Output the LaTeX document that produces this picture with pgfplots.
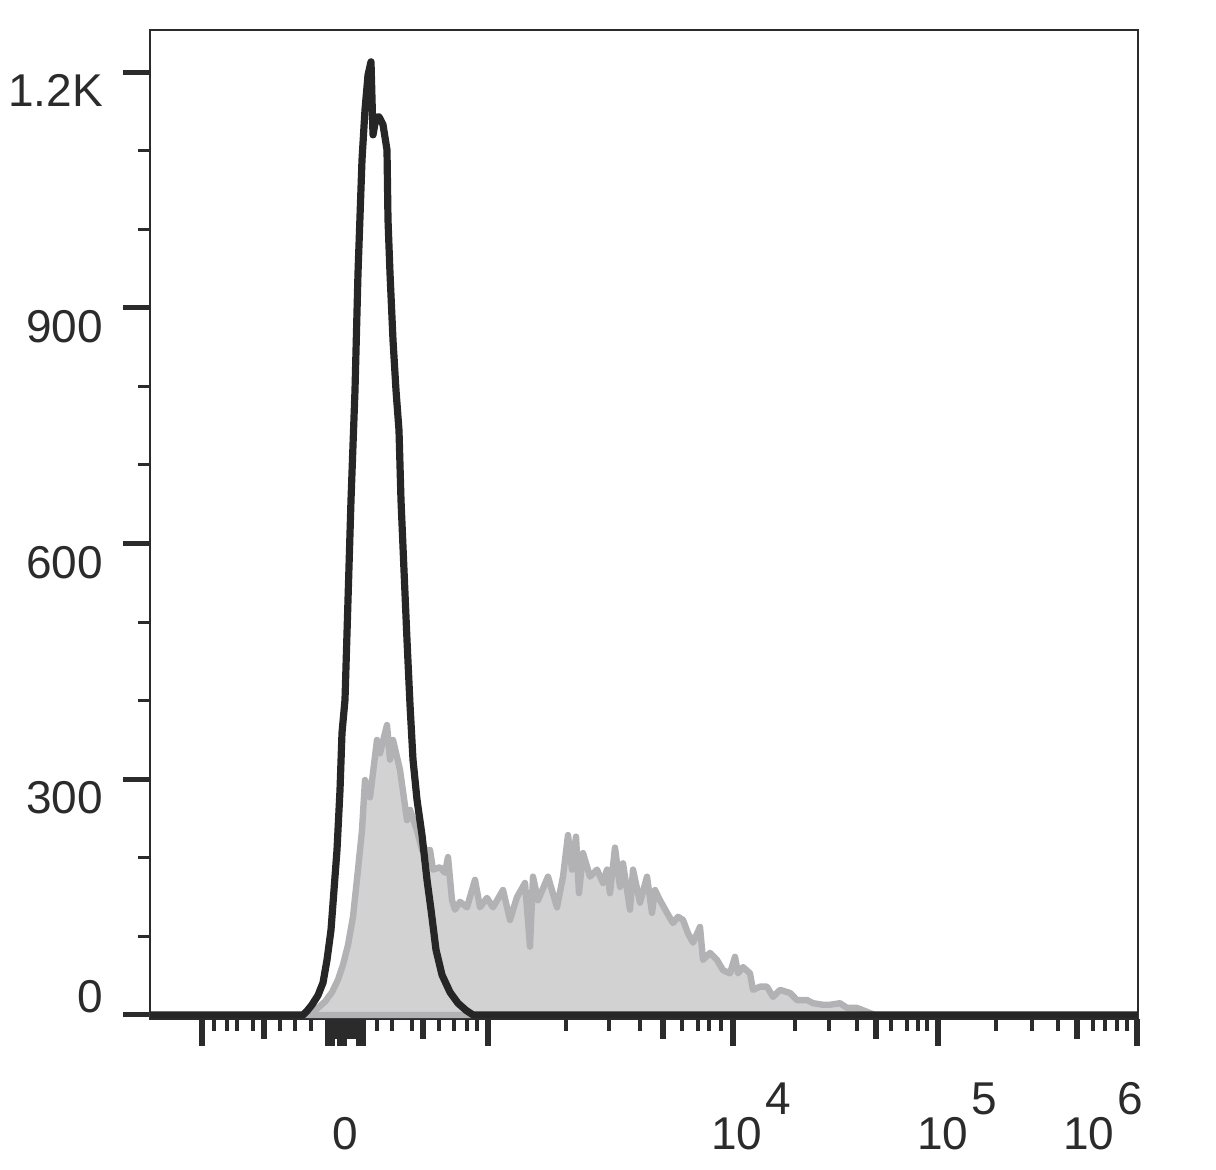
\documentclass[border=0pt]{standalone}
\usepackage{fontspec}
\setmainfont{Liberation Sans}
\usepackage{pgfplots}
\pgfplotsset{compat=1.18}
\definecolor{ink}{HTML}{2B2B2B}
\definecolor{curve}{HTML}{262626}
\definecolor{fillgray}{HTML}{D2D2D2}
\definecolor{edgegray}{HTML}{B2B2B5}
\newcommand{\lblfont}{\fontsize{23}{27}\selectfont}
\begin{document}
\begin{tikzpicture}
\begin{axis}[
  name=ax,
  scale only axis, width=494pt, height=494.5pt,
  xmin=150, xmax=1138, ymin=-5.1, ymax=1253.5,
  axis line style={draw=ink, line width=0.9pt},
  tick align=outside,
  xtick pos=bottom, ytick pos=left,
  major tick length=13.5pt, minor tick length=6pt,
  tick style={draw=ink},
  major x tick style={line width=3.4pt},
  minor x tick style={line width=2pt},
  major y tick style={line width=2.5pt},
  minor y tick style={line width=1.5pt},
  xtick={202,328,332,340,344,359,363,488,733,938,1137},
  xticklabels={},
  minor xtick={214,227,237,253,280,295,311,377,392,412,439,454,467,477,566,609,640,682,698,709,721,795,829,857,891,907,918,927,996,1032,1058,1093,1105,1117,1127},
  extra x ticks={264,336,349,352,355,423,663,876,1077},
  extra x tick labels={},
  extra x tick style={major tick length=10pt, major x tick style={line width=3.2pt}},
  ytick={300,600,900,1200},
  yticklabels={300,600,900,1.2K},
  minor ytick={100,200,400,500,700,800,1000,1100},
  extra y ticks={0},
  extra y tick labels={0},
  extra y tick style={yticklabel style={anchor=south east}},
  yticklabel style={anchor=north east, font=\lblfont, text=ink, inner ysep=1pt, xshift=-6.5pt},
  clip mode=individual,
]
% grey filled histogram (stained sample)
\addplot[fill=fillgray, draw=edgegray, line width=3.2pt, line join=round] coordinates {
(150,0) (305,0) (310,2.5) (318,9) (325,17) (332,29) (338,45) (343,64) (348,89) (353,125)
(358,185) (362,235) (365,299) (370,277) (377,350) (380,333) (387,369) (390,325) (393,350)
(400,312) (407,248) (410,261) (417,235) (422,210) (430,210) (433,185) (440,188) (445,181)
(448,201) (452,146) (455,134) (460,144) (467,137) (475,172) (480,137) (487,149) (493,137)
(503,159) (510,121) (517,150) (525,168) (530,87) (533,176) (538,146) (548,176) (557,137)
(563,176) (568,229) (572,185) (576,227) (579,155) (583,206) (590,176) (597,185) (603,168)
(607,185) (610,155) (615,213) (620,163) (623,193) (630,134) (633,185) (640,143) (647,176)
(652,130) (655,159) (660,146) (667,130) (673,117) (678,125) (683,121) (688,104) (693,92)
(700,112) (703,70) (710,79) (717,70) (723,57) (730,53) (735,74) (738,53) (743,61) (750,53)
(753,32) (760,36) (767,36) (773,23) (780,32) (790,28) (797,19) (807,19) (813,15) (823,13)
(830,13) (840,15) (847,9) (857,9) (863,6) (870,2.5) (875,0) (1138,0)
} \closedcycle;
% black line histogram (control)
\addplot[draw=curve, line width=3.6pt, line join=round] coordinates {
(150,0) (303,0) (307,5) (312,13) (318,25) (323,41) (327,70) (331,108) (334,159) (337,210)
(340,286) (342,359) (345,401) (348,528) (351,655) (355,795) (358,944) (362,1088) (365,1152)
(368,1196) (371,1213) (373,1120) (376,1142) (379,1143) (383,1133) (387,1101) (388,1012)
(390,944) (393,859) (396,795) (399,744) (401,655) (404,566) (407,477) (410,395) (413,325)
(417,274) (422,229) (427,172) (431,134) (436,83) (442,51) (450,29) (458,15) (466,6) (473,0)
(1138,0)
};
% x tick labels of the biexponential scale
\node[anchor=base, inner sep=0pt, font=\lblfont, text=ink, yshift=-65.5pt] at (axis cs:345,-5.1) {0};
\node[anchor=base west, inner sep=0pt, font=\lblfont, text=ink, yshift=-65.5pt] at (axis cs:711,-5.1) {10\hspace{1.5pt}\raisebox{17.5pt}{4}};
\node[anchor=base west, inner sep=0pt, font=\lblfont, text=ink, yshift=-65.5pt] at (axis cs:917,-5.1) {10\hspace{1.5pt}\raisebox{17.5pt}{5}};
\node[anchor=base west, inner sep=0pt, font=\lblfont, text=ink, yshift=-65.5pt] at (axis cs:1063,-5.1) {10\hspace{1.5pt}\raisebox{17.5pt}{6}};
\end{axis}
\path ([xshift=-75pt,yshift=-75.5pt]ax.south west) rectangle ([xshift=39pt,yshift=15pt]ax.north east);
\end{tikzpicture}
\end{document}
